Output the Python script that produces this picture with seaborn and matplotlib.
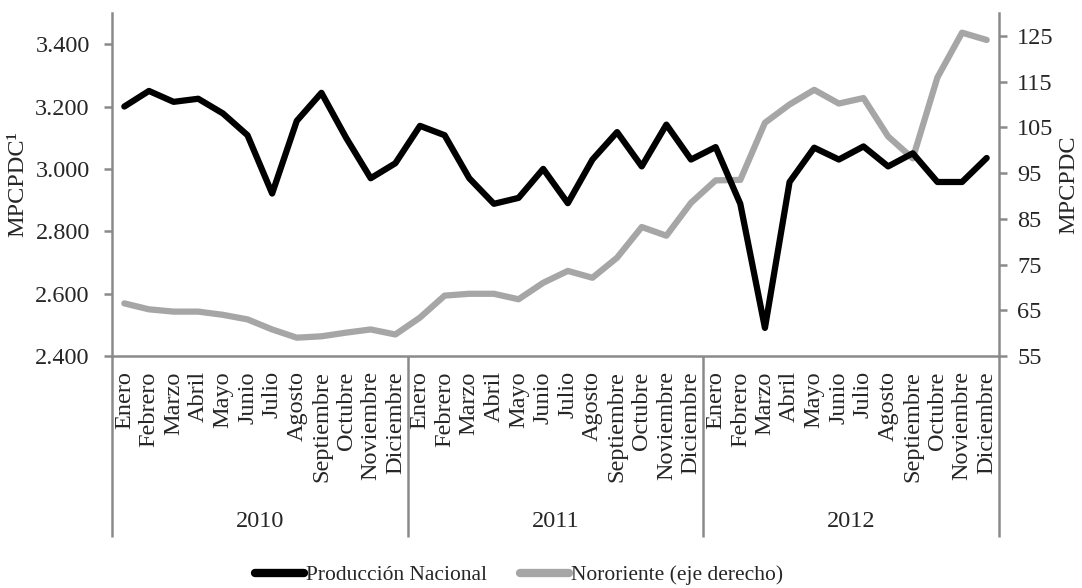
import matplotlib
matplotlib.use('Agg')
import matplotlib.pyplot as plt
import matplotlib.transforms as mtransforms
from matplotlib.ticker import FuncFormatter, FixedLocator
import seaborn as sns
import pandas as pd

# Data
years = ['2010', '2011', '2012']
months = ['Enero', 'Febrero', 'Marzo', 'Abril', 'Mayo', 'Junio', 'Julio',
          'Agosto', 'Septiembre', 'Octubre', 'Noviembre', 'Diciembre']

produccion_nacional = [
    3200, 3250, 3215, 3225, 3178, 3108, 2921, 3154, 3244, 3100, 2970, 3018,
    3138, 3108, 2970, 2888, 2907, 3000, 2890, 3030, 3118, 3008, 3142, 3030,
    3070, 2888, 2490, 2958, 3068, 3030, 3072, 3008, 3050, 2958, 2958, 3035,
]
nororiente = [
    66.5, 65.2, 64.7, 64.7, 64.0, 63.0, 60.8, 59.0, 59.3, 60.1, 60.8, 59.7,
    63.4, 68.2, 68.6, 68.6, 67.4, 71.0, 73.6, 72.1, 76.5, 83.2, 81.3, 88.5,
    93.4, 93.5, 106.0, 110.0, 113.2, 110.2, 111.4, 103.0, 98.2, 115.9, 125.7, 124.1,
]

df = pd.DataFrame({
    'idx': range(len(produccion_nacional)),
    'nacional': produccion_nacional,
    'nororiente': nororiente,
})

sns.set_theme(style='white')
plt.rcParams['font.family'] = ['Liberation Serif', 'DejaVu Serif']

AXIS_GREY = '#8a8a8a'
LINE_GREY = '#a6a6a6'
FS = 17.5

fig = plt.figure(figsize=(10.82, 5.88), dpi=100)
ax = fig.add_axes([0.1035, 0.3946, 0.8198, 0.5833])
ax2 = ax.twinx()

sns.lineplot(data=df, x='idx', y='nacional', ax=ax, color='black', linewidth=4.5,
             solid_capstyle='round', solid_joinstyle='round', legend=False)
sns.lineplot(data=df, x='idx', y='nororiente', ax=ax2, color=LINE_GREY, linewidth=4.5,
             solid_capstyle='round', solid_joinstyle='round', legend=False)
# keep black line above the grey one
ax.set_zorder(ax2.get_zorder() + 1)
ax.patch.set_visible(False)

n = len(produccion_nacional)
ax.set_xlim(-0.5, n - 0.5)
ax.set_ylim(2400, 3500)
ax2.set_ylim(55, 130)

ax.yaxis.set_major_locator(FixedLocator(range(2400, 3401, 200)))
ax.yaxis.set_major_formatter(FuncFormatter(lambda v, p: f'{int(v):,}'.replace(',', '.')))
ax2.yaxis.set_major_locator(FixedLocator(range(55, 126, 10)))

ax.set_xticks(range(n))
ax.set_xticklabels(months * len(years), rotation=90, fontsize=FS, va='top')
ax.tick_params(axis='x', length=0, pad=11)
ax.tick_params(axis='y', direction='out', length=6, width=1.8, color=AXIS_GREY,
               labelsize=FS, pad=10, left=True)
ax2.tick_params(axis='y', direction='out', length=6, width=1.8, color=AXIS_GREY,
                labelsize=FS, pad=7, right=True)

for a in (ax, ax2):
    a.set_xlabel('')
    a.grid(False)
    a.spines['top'].set_visible(False)
    for s in ('left', 'right', 'bottom'):
        a.spines[s].set_color(AXIS_GREY)
        a.spines[s].set_linewidth(1.8)
ax.spines['right'].set_visible(False)
ax2.spines['left'].set_visible(False)
ax2.spines['bottom'].set_visible(False)

ax.set_ylabel('MPCPDC¹', fontsize=FS, labelpad=5)
ax2.set_ylabel('MPCPDC', fontsize=FS, rotation=90, labelpad=3)

# year groups under the month labels
trans = mtransforms.blended_transform_factory(ax.transData, ax.transAxes)
for k in range(len(years) + 1):
    xs = k * 12 - 0.5
    ax.plot([xs, xs], [0, -0.528], transform=trans, color=AXIS_GREY,
            linewidth=1.8, clip_on=False, solid_capstyle='butt')
for k, yr in enumerate(years):
    ax.text(k * 12 + 5.5, -0.484, yr, transform=trans, ha='center', va='center',
            fontsize=FS)

handles = [
    plt.Line2D([], [], color='black', linewidth=6, solid_capstyle='round'),
    plt.Line2D([], [], color=LINE_GREY, linewidth=6, solid_capstyle='round'),
]
fig.legend(handles, ['Producción Nacional', 'Nororiente (eje derecho)'],
           loc='center', bbox_to_anchor=(519 / 1082, 1 - 575 / 588), ncol=2,
           frameon=False, fontsize=15.5, handlelength=2.3, handletextpad=0.1,
           columnspacing=1.5)

fig.savefig('out.png', dpi=100)
